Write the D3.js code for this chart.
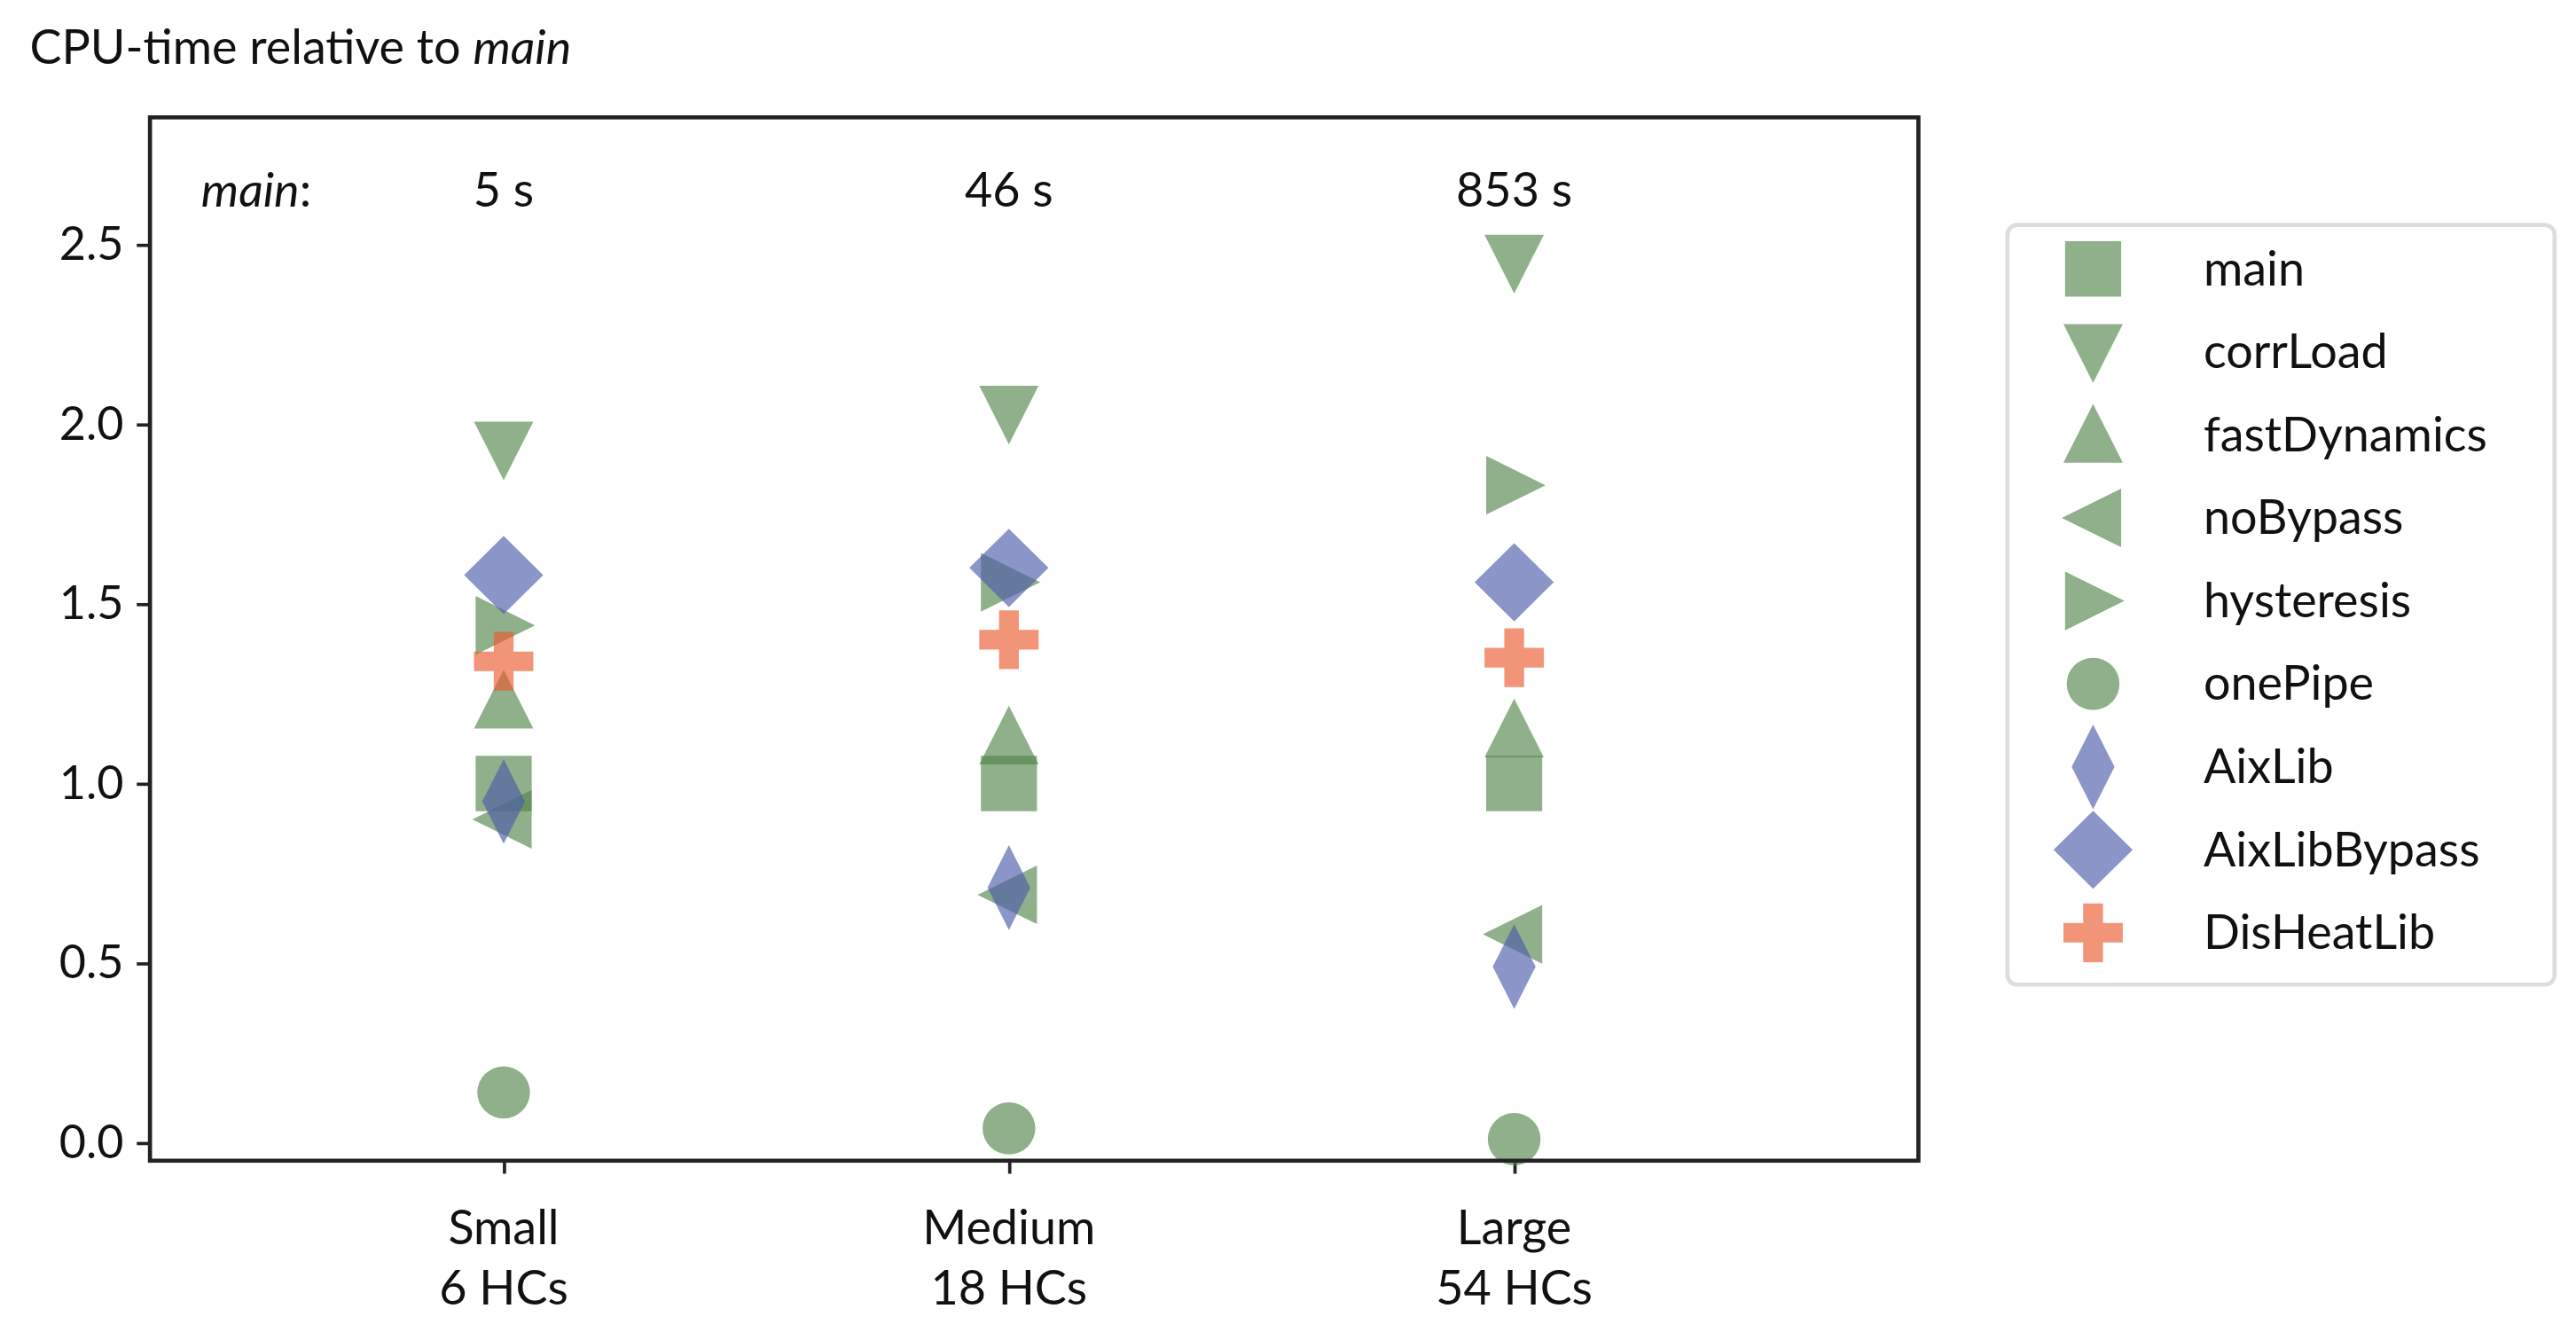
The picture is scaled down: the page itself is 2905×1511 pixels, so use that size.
<!DOCTYPE html>
<html><head><meta charset="utf-8">
<script src="https://cdn.jsdelivr.net/npm/d3@7"></script>
<style>body{margin:0;background:#fff}svg{display:block}text{font-family:Lato,"Open Sans",sans-serif;fill:#111}</style>
</head><body><svg id="chart"></svg>
<script>
const categories = ['Small\n6 HCs', 'Medium\n18 HCs', 'Large\n54 HCs'];
const mainTimes = ['5 s', '46 s', '853 s'];
const yTicks = [0, 0.5, 1.0, 1.5, 2.0, 2.5];
const seriesNames = ['main', 'corrLoad', 'fastDynamics', 'noBypass', 'hysteresis', 'onePipe', 'AixLib', 'AixLibBypass', 'DisHeatLib'];
const main = [1.0, 1.0, 1.0];
const corrLoad = [1.93, 2.03, 2.45];
const fastDynamics = [1.23, 1.13, 1.15];
const noBypass = [0.9, 0.69, 0.58];
const hysteresis = [1.44, 1.56, 1.83];
const onePipe = [0.14, 0.04, 0.01];
const AixLib = [0.95, 0.71, 0.49];
const AixLibBypass = [1.58, 1.6, 1.56];
const DisHeatLib = [1.34, 1.40, 1.35];
const values = [main, corrLoad, fastDynamics, noBypass, hysteresis, onePipe, AixLib, AixLibBypass, DisHeatLib];

const green = '#53854b', blue = '#4e5caa', orange = '#eb5a2f';
const colors = [green, green, green, green, green, green, blue, blue, orange];

// marker shapes, centred on 0,0
function shape(name) {
  switch (name) {
    case 'main': return 'M-17,-17H17V17H-17Z';
    case 'corrLoad': return 'M-18,-17H18L0,19Z';
    case 'fastDynamics': return 'M-18,17H18L0,-19Z';
    case 'noBypass': return 'M-19,0L17,-18V18Z';
    case 'hysteresis': return 'M19,0L-17,-18V18Z';
    case 'onePipe': return 'M-16,0A16,16 0 1,0 16,0A16,16 0 1,0 -16,0Z';
    case 'AixLib': return 'M0,-26L13,0L0,26L-13,0Z';
    case 'AixLibBypass': return 'M0,-24L24,0L0,24L-24,0Z';
    case 'DisHeatLib': return 'M-6,-18H6V-6H18V6H6V18H-6V6H-18V-6H-6Z';
  }
}

const W = 1563, H = 822;
const svg = d3.select('#chart').attr('width', 2905).attr('height', 1511)
  .attr('viewBox', `0 0 ${W} ${H}`).attr('preserveAspectRatio', 'none');

const box = {l: 91, r: 1164, t: 72, b: 712};
const x = d3.scaleLinear().domain([-0.7, 2.8]).range([box.l, box.r]);
const y = d3.scaleLinear().domain([-0.05, 2.854]).range([box.b, box.t]);

svg.append('text').attr('x', 18).attr('y', 39).attr('font-size', 29)
  .html('CPU-time relative to <tspan font-style="italic">main</tspan>');

// y axis
const ya = svg.append('g').attr('transform', `translate(${box.l},0)`)
  .call(d3.axisLeft(y).tickValues(yTicks).tickFormat(d3.format('.1f')).tickSize(8).tickPadding(8));
ya.select('.domain').remove();
ya.selectAll('line').attr('stroke', '#222').attr('stroke-width', 2);
ya.selectAll('text').attr('font-size', 28).attr('font-family', 'Lato').attr('fill', '#111');

// x axis
const xa = svg.append('g').attr('transform', `translate(0,${box.b})`)
  .call(d3.axisBottom(x).tickValues([0, 1, 2]).tickFormat('').tickSize(8));
xa.select('.domain').remove();
xa.selectAll('line').attr('stroke', '#222').attr('stroke-width', 2);
categories.forEach((c, i) => {
  const t = svg.append('text').attr('x', x(i)).attr('y', 763).attr('text-anchor', 'middle').attr('font-size', 29);
  c.split('\n').forEach((s, k) => t.append('tspan').attr('x', x(i)).attr('dy', k ? 37 : 0).text(s));
});

// main time annotations
svg.append('text').attr('x', 122).attr('y', 127).attr('font-size', 29)
  .html('<tspan font-style="italic">main</tspan>:');
mainTimes.forEach((s, i) => svg.append('text').attr('x', x(i)).attr('y', 127)
  .attr('text-anchor', 'middle').attr('font-size', 29).text(s));

// markers
seriesNames.forEach((n, si) => {
  svg.append('g').selectAll('path').data(values[si]).join('path')
    .attr('d', shape(n))
    .attr('transform', (d, i) => `translate(${x(i)},${y(d)})`)
    .attr('fill', colors[si]).attr('fill-opacity', 0.65);
});

svg.append('rect').attr('x', box.l).attr('y', box.t).attr('width', box.r - box.l).attr('height', box.b - box.t)
  .attr('fill', 'none').attr('stroke', '#222').attr('stroke-width', 2.5);

// legend
const lg = svg.append('g');
lg.append('rect').attr('x', 1218).attr('y', 138).attr('width', 332).attr('height', 466).attr('rx', 6)
  .attr('fill', '#fff').attr('stroke', '#ddd').attr('stroke-width', 2.5);
seriesNames.forEach((n, i) => {
  const yy = 165 + i * 50.9;
  lg.append('path').attr('d', shape(n)).attr('transform', `translate(1270,${yy})`)
    .attr('fill', colors[i]).attr('fill-opacity', 0.65);
  lg.append('text').attr('x', 1337).attr('y', yy + 10).attr('font-size', 29).text(n);
});
</script></body></html>
